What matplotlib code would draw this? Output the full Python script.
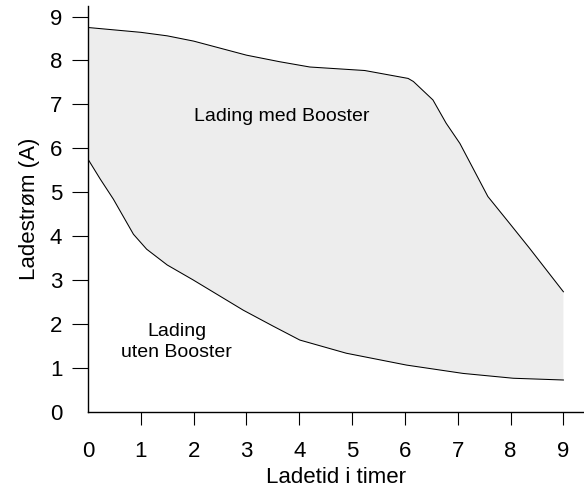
import numpy as np
import matplotlib
matplotlib.use("Agg")
import matplotlib.pyplot as plt

plt.rcParams['font.family'] = ['Liberation Sans', 'DejaVu Sans']

# charge current with booster (upper curve)
med_x = [0, 1, 1.5, 2, 2.5, 3, 3.63, 4.2, 5.24, 6.06, 6.16, 6.53, 6.78, 7.04, 7.29,
         7.57, 7.98, 8.36, 9.0]
med_y = [8.75, 8.64, 8.56, 8.44, 8.28, 8.12, 7.97, 7.85, 7.77, 7.59, 7.52, 7.10, 6.57,
         6.11, 5.54, 4.90, 4.29, 3.72, 2.73]

# charge current without booster (lower curve)
uten_x = [0, 0.23, 0.48, 0.67, 0.86, 1.11, 1.5, 1.99, 2.94, 3.5, 4.01, 4.89, 6.03,
          7.1, 8.05, 9.0]
uten_y = [5.75, 5.30, 4.84, 4.44, 4.04, 3.70, 3.34, 3.0, 2.31, 1.95, 1.63, 1.33, 1.06,
          0.87, 0.76, 0.72]

xticks = [0, 1, 2, 3, 4, 5, 6, 7, 8, 9]
yticks = [0, 1, 2, 3, 4, 5, 6, 7, 8, 9]

fig = plt.figure(figsize=(5.84, 4.87), dpi=100)
ax = fig.add_axes([0.1507, 0.1548, 0.8493, 0.8329])

# shaded area between the two curves
poly_x = np.concatenate([med_x, uten_x[::-1]])
poly_y = np.concatenate([med_y, uten_y[::-1]])
ax.fill(poly_x, poly_y, color='#ededed', lw=0)

ax.plot(med_x, med_y, color='black', lw=0.75)
ax.plot(uten_x, uten_y, color='black', lw=0.75)

ax.text(3.67, 6.73, 'Lading med Booster', ha='center', va='center', fontsize=14)
ax.text(1.68, 1.58, 'Lading\nuten Booster', ha='center', va='center', fontsize=14,
        linespacing=1.3)

ax.set_xlim(0, 9.39)
ax.set_ylim(0, 9.24)
ax.set_xticks(xticks)
ax.set_yticks(yticks)

for s in ['top', 'right']:
    ax.spines[s].set_visible(False)
for s in ['left', 'bottom']:
    ax.spines[s].set_linewidth(1.0)

ax.tick_params(axis='y', length=11.5, width=0.8, pad=7, labelsize=16)
ax.tick_params(axis='x', length=9, width=0.8, pad=12, labelsize=16)
# hide the tick marks sitting on the axis corner
ax.xaxis.get_major_ticks()[0].tick1line.set_visible(False)
ax.yaxis.get_major_ticks()[0].tick1line.set_visible(False)

ax.set_xlabel('Ladetid i timer', fontsize=16, labelpad=4)
ax.set_ylabel('Ladestrøm (A)', fontsize=16, labelpad=7)

plt.savefig('out.png', dpi=100)
